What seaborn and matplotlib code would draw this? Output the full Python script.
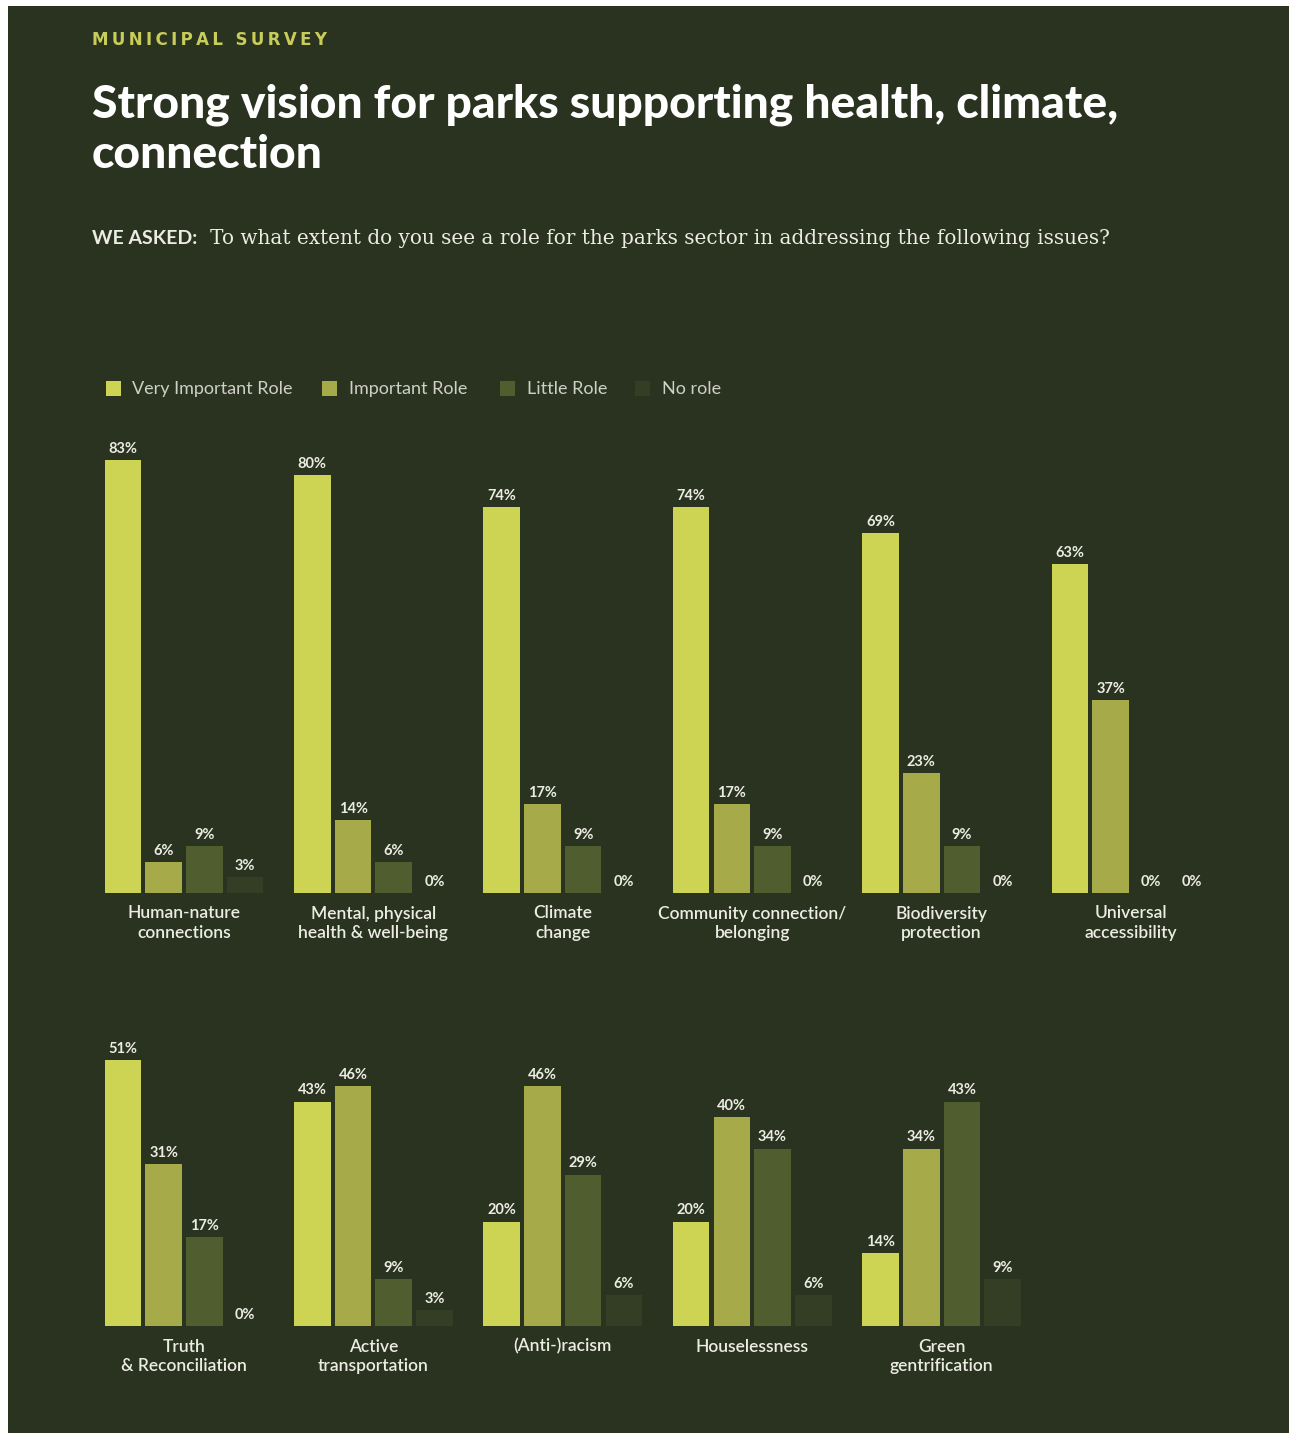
import matplotlib
matplotlib.use("Agg")
import matplotlib.pyplot as plt
from matplotlib.patches import Rectangle
import seaborn as sns
import pandas as pd

# ---------------- data ----------------
roles = ["Very Important Role", "Important Role", "Little Role", "No role"]
role_colors = ["#cdd352", "#a6aa48", "#505d2e", "#333e25"]

top_categories = ["Human-nature\nconnections", "Mental, physical\nhealth & well-being",
                  "Climate\nchange", "Community connection/\nbelonging",
                  "Biodiversity\nprotection", "Universal\naccessibility"]
top_very = [83, 80, 74, 74, 69, 63]
top_important = [6, 14, 17, 17, 23, 37]
top_little = [9, 6, 9, 9, 9, 0]
top_none = [3, 0, 0, 0, 0, 0]

bottom_categories = ["Truth\n& Reconciliation", "Active\ntransportation",
                     "(Anti-)racism", "Houselessness", "Green\ngentrification"]
bottom_very = [51, 43, 20, 20, 14]
bottom_important = [31, 46, 46, 40, 34]
bottom_little = [17, 9, 29, 34, 43]
bottom_none = [0, 3, 6, 6, 9]

BG = "#2a3320"
TXT = "#ecece4"


def long_df(cats, series):
    rows = []
    for role, vals in zip(roles, series):
        for c, v in zip(cats, vals):
            rows.append({"category": c, "role": role, "value": v})
    return pd.DataFrame(rows)


df_top = long_df(top_categories, [top_very, top_important, top_little, top_none])
df_bot = long_df(bottom_categories, [bottom_very, bottom_important, bottom_little, bottom_none])

sns.set_theme(style="white")
plt.rcParams["font.family"] = ["Lato", "DejaVu Sans"]

W, H = 1289, 1433
fig = plt.figure(figsize=(W / 100, H / 100), dpi=100, facecolor="white")
# dark panel (small white border at top/left like the reference)
fig.patches.append(Rectangle((8 / W, 0), 1 - 8 / W, 1 - 6 / H, transform=fig.transFigure,
                             facecolor=BG, edgecolor="none", zorder=-10))

px_per_pct = 5.22
left = 89.3 / W
width = (1225.7 - 89.3) / W

top_base = (H - 893) / H
ax1 = fig.add_axes([left, top_base, width, 90 * px_per_pct / H])
bot_base = (H - 1326) / H
ax2 = fig.add_axes([left, bot_base, width, 60 * px_per_pct / H])

for ax, df, ylim in [(ax1, df_top, 90), (ax2, df_bot, 60)]:
    ax.set_facecolor("none")
    sns.barplot(data=df, x="category", y="value", hue="role", hue_order=roles,
                palette=role_colors, saturation=1, width=0.86, gap=0.1,
                legend=False, ax=ax, edgecolor="none")
    ax.set_xlim(-0.5, 5.5)
    ax.set_ylim(0, ylim)
    for cont in ax.containers:
        vals = [int(round(b.get_height())) for b in cont]
        ax.bar_label(cont, labels=[f"{v}%" for v in vals], padding=3,
                     color=TXT, fontsize=10.5, fontweight="bold", clip_on=False)
    ax.set_xlabel("")
    ax.set_ylabel("")
    ax.set_yticks([])
    ax.tick_params(axis="x", length=0, pad=9, colors=TXT, labelsize=12.5)
    for lab in ax.get_xticklabels():
        lab.set_multialignment("center")
        lab.set_linespacing(1.25)
        lab.set_fontweight("semibold")
    for s in ax.spines.values():
        s.set_visible(False)

# ---------------- header ----------------
hs = "\u2009"
fig.text(92 / W, 1 - 45 / H, hs.join("MUNICIPAL") + hs + " " + hs + hs.join("SURVEY"),
         color="#c8cd5a", fontsize=12, fontweight="bold", va="baseline", ha="left",
         family=["DejaVu Sans"])
fig.text(92 / W, 1 - 118 / H, "Strong vision for parks supporting health, climate,",
         color="white", fontsize=33.3, fontweight="black", va="baseline", ha="left")
fig.text(92 / W, 1 - 168 / H, "connection",
         color="white", fontsize=33.3, fontweight="black", va="baseline", ha="left")
fig.text(92 / W, 1 - 244 / H, "WE ASKED:", color=TXT, fontsize=14, fontweight="bold",
         va="baseline", ha="left")
fig.text(210 / W, 1 - 244 / H,
         "To what extent do you see a role for the parks sector in addressing the following issues?",
         color=TXT, fontsize=14.4, va="baseline", ha="left",
         family=["DejaVu Serif"])

# ---------------- legend ----------------
sq_x = [106, 322, 500, 635]
txt_x = [132, 349, 527, 662]
for col, lab, sx, tx in zip(role_colors, roles, sq_x, txt_x):
    fig.patches.append(Rectangle((sx / W, 1 - 396 / H), 15 / W, 15 / H,
                                 transform=fig.transFigure, facecolor=col, edgecolor="none"))
    fig.text(tx / W, 1 - 389 / H, lab, color="#cfcfc7", fontsize=13, fontweight="normal",
             va="center", ha="left")

fig.savefig("out.png", dpi=100, facecolor=fig.get_facecolor())
